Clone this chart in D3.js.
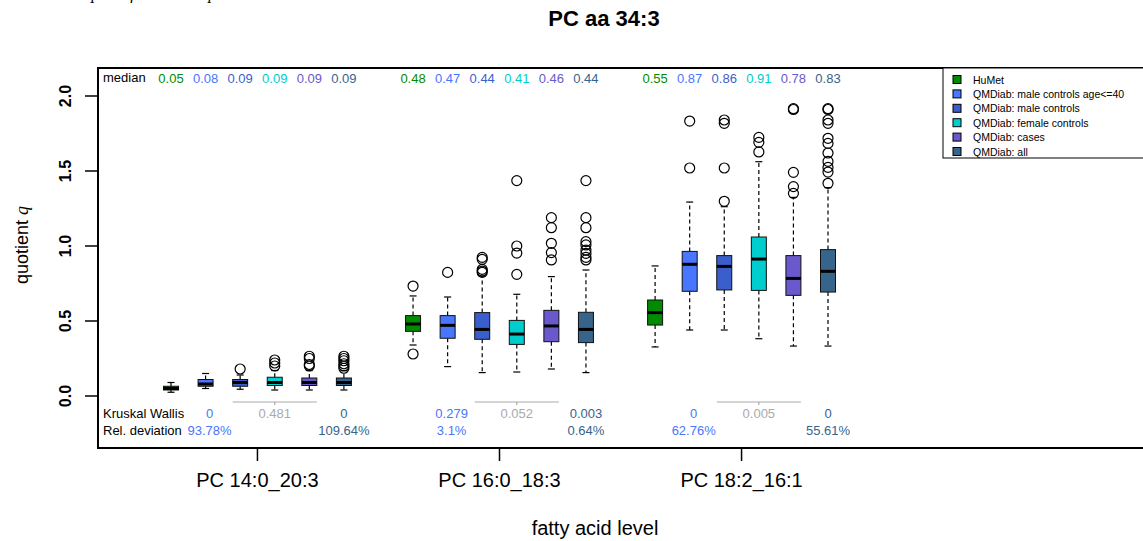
<!DOCTYPE html>
<html>
<head>
<meta charset="utf-8">
<script src="https://cdn.jsdelivr.net/npm/d3@7"></script>
<style>
  body { margin: 0; background: #fff; }
  text { font-family: 'Liberation Sans', Arial, sans-serif; }
</style>
</head>
<body>
<div id="chart"></div>
<script>
const groups = ['PC 14:0_20:3', 'PC 16:0_18:3', 'PC 18:2_16:1']
const series = ['HuMet', 'QMDiab: male controls age<=40', 'QMDiab: male controls', 'QMDiab: female controls', 'QMDiab: cases', 'QMDiab: all']
const colors = ['#008B00', '#4876FF', '#3A5FCD', '#00CDCD', '#6959CD', '#36648B']
const yTicks = [0, 0.5, 1, 1.5, 2]

// box stats per group, one entry per series
const lowWhisker = [
  [0.025, 0.05, 0.045, 0.04, 0.04, 0.04],
  [0.34, 0.196, 0.156, 0.16, 0.18, 0.156],
  [0.327, 0.44, 0.44, 0.382, 0.333, 0.333]
]
const q1 = [
  [0.04, 0.065, 0.065, 0.07, 0.07, 0.07],
  [0.431, 0.385, 0.378, 0.344, 0.362, 0.356],
  [0.473, 0.698, 0.707, 0.704, 0.671, 0.693]
]
const medians = [
  [0.05, 0.08, 0.09, 0.09, 0.09, 0.09],
  [0.48, 0.471, 0.444, 0.413, 0.467, 0.444],
  [0.556, 0.878, 0.864, 0.913, 0.784, 0.831]
]
const q3 = [
  [0.065, 0.11, 0.11, 0.125, 0.12, 0.12],
  [0.536, 0.536, 0.556, 0.504, 0.571, 0.558],
  [0.64, 0.964, 0.936, 1.06, 0.936, 0.976]
]
const highWhisker = [
  [0.09, 0.15, 0.14, 0.17, 0.17, 0.17],
  [0.667, 0.66, 0.80, 0.678, 0.796, 0.84],
  [0.867, 1.293, 1.262, 1.562, 1.324, 1.389]
]
const outliers = [
  [[], [], [0.18], [0.2, 0.22, 0.24], [0.2, 0.21, 0.25, 0.265], [0.185, 0.2, 0.215, 0.235, 0.25, 0.265]],
  [[0.28, 0.733], [0.824], [0.824, 0.833, 0.844, 0.911, 0.924], [0.811, 0.953, 1.0, 1.436],
    [0.907, 0.956, 1.018, 1.122, 1.189], [0.907, 0.924, 0.951, 0.973, 1.007, 1.029, 1.122, 1.189, 1.436]],
  [[], [1.52, 1.833], [1.298, 1.52, 1.818, 1.84], [1.627, 1.691, 1.724],
    [1.351, 1.396, 1.491, 1.91, 1.916], [1.418, 1.493, 1.524, 1.564, 1.62, 1.684, 1.718, 1.818, 1.84, 1.91, 1.916]]
]
const medianLabels = [
  ['0.05', '0.08', '0.09', '0.09', '0.09', '0.09'],
  ['0.48', '0.47', '0.44', '0.41', '0.46', '0.44'],
  ['0.55', '0.87', '0.86', '0.91', '0.78', '0.83']
]
const kwLeft = ['0', '0.279', '0']
const kwMid = ['0.481', '0.052', '0.005']
const kwRight = ['0', '0.003', '0']
const relLeft = ['93.78%', '3.1%', '62.76%']
const relRight = ['109.64%', '0.64%', '55.61%']

const width = 1143
const height = 541
const plot = { left: 98, right: 1150, top: 68, bottom: 448 }
const boxHalf = 7.5

const svg = d3.select('#chart').append('svg')
  .attr('width', width)
  .attr('height', height)

// clipped caption from the page above the chart
svg.append('text')
  .attr('x', 0).attr('y', -1)
  .style('font-family', "'Liberation Serif', serif")
  .style('font-style', 'italic')
  .style('font-size', '17px')
  .text('Values in the plot of the ratio species')

const y = d3.scaleLinear().domain([0, 2]).range([396, 96])
const x = d3.scaleLinear().domain([0, 19]).range([171, 828])
const pos = (g, i) => x(g * 7 + i)

// title and axis labels
svg.append('text').attr('x', 604).attr('y', 26).attr('text-anchor', 'middle')
  .style('font-size', '22px').style('font-weight', 'bold').text('PC aa 34:3')
svg.append('text').attr('x', 595).attr('y', 535).attr('text-anchor', 'middle')
  .style('font-size', '20px').text('fatty acid level')
const ylab = svg.append('text')
  .attr('transform', 'translate(28,' + 245 + ') rotate(-90)')
  .attr('text-anchor', 'middle')
  .style('font-size', '18px')
ylab.append('tspan').text('quotient ')
ylab.append('tspan').style('font-family', "'Liberation Serif', serif").style('font-style', 'italic').text('q')

// y axis
const yAxis = svg.append('g')
yAxis.selectAll('line').data(yTicks).enter().append('line')
  .attr('x1', 85).attr('x2', plot.left)
  .attr('y1', d => y(d)).attr('y2', d => y(d))
  .attr('stroke', '#000').attr('stroke-width', 1.5)
yAxis.selectAll('text').data(yTicks).enter().append('text')
  .attr('transform', d => 'translate(71,' + y(d) + ') rotate(-90)')
  .attr('text-anchor', 'middle')
  .style('font-size', '16px').style('font-weight', 'bold')
  .text(d => d3.format('.1f')(d))

// x axis
const xAxis = svg.append('g')
xAxis.selectAll('line').data(groups).enter().append('line')
  .attr('x1', (d, g) => x(g * 7 + 2.5)).attr('x2', (d, g) => x(g * 7 + 2.5))
  .attr('y1', plot.bottom).attr('y2', 461)
  .attr('stroke', '#000').attr('stroke-width', 1.5)
xAxis.selectAll('text').data(groups).enter().append('text')
  .attr('x', (d, g) => x(g * 7 + 2.5)).attr('y', 487)
  .attr('text-anchor', 'middle')
  .style('font-size', '20px')
  .text(d => d)

// frame
svg.append('rect')
  .attr('x', plot.left).attr('y', plot.top)
  .attr('width', plot.right - plot.left).attr('height', plot.bottom - plot.top)
  .attr('fill', 'none').attr('stroke', '#000').attr('stroke-width', 2)

// boxes
groups.forEach((gName, g) => {
  const cells = series.map((s, i) => ({
    i,
    cx: pos(g, i),
    lw: lowWhisker[g][i],
    q1: q1[g][i],
    med: medians[g][i],
    q3: q3[g][i],
    hw: highWhisker[g][i],
    out: outliers[g][i]
  }))
  const bg = svg.append('g')
  const box = bg.selectAll('g').data(cells).enter().append('g')

  box.append('line')
    .attr('x1', d => d.cx).attr('x2', d => d.cx)
    .attr('y1', d => y(d.q3)).attr('y2', d => y(d.hw))
    .attr('stroke', '#000').attr('stroke-width', 1.2).attr('stroke-dasharray', '4,3')
  box.append('line')
    .attr('x1', d => d.cx).attr('x2', d => d.cx)
    .attr('y1', d => y(d.q1)).attr('y2', d => y(d.lw))
    .attr('stroke', '#000').attr('stroke-width', 1.2).attr('stroke-dasharray', '4,3')
  box.append('line')
    .attr('x1', d => d.cx - 3.5).attr('x2', d => d.cx + 3.5)
    .attr('y1', d => y(d.hw)).attr('y2', d => y(d.hw))
    .attr('stroke', '#000').attr('stroke-width', 1.2)
  box.append('line')
    .attr('x1', d => d.cx - 3.5).attr('x2', d => d.cx + 3.5)
    .attr('y1', d => y(d.lw)).attr('y2', d => y(d.lw))
    .attr('stroke', '#000').attr('stroke-width', 1.2)
  box.append('rect')
    .attr('x', d => d.cx - boxHalf).attr('width', boxHalf * 2)
    .attr('y', d => y(d.q3)).attr('height', d => y(d.q1) - y(d.q3))
    .attr('fill', d => colors[d.i])
    .attr('stroke', '#111').attr('stroke-width', 1)
  box.append('line')
    .attr('x1', d => d.cx - boxHalf).attr('x2', d => d.cx + boxHalf)
    .attr('y1', d => y(d.med)).attr('y2', d => y(d.med))
    .attr('stroke', '#000').attr('stroke-width', 3)
  box.selectAll('circle').data(d => d.out.map(v => ({ cx: d.cx, v }))).enter().append('circle')
    .attr('cx', d => d.cx).attr('cy', d => y(d.v)).attr('r', 5)
    .attr('fill', 'none').attr('stroke', '#000').attr('stroke-width', 1.2)

  // median labels
  bg.selectAll('text.med').data(cells).enter().append('text')
    .attr('x', d => d.cx).attr('y', 83)
    .attr('text-anchor', 'middle')
    .attr('fill', d => colors[d.i])
    .style('font-size', '13px')
    .text(d => medianLabels[g][d.i])

  // Kruskal Wallis and deviation
  const kw = [
    { x: pos(g, 1) + 4, row: 418, t: kwLeft[g], c: colors[1] },
    { x: pos(g, 3), row: 418, t: kwMid[g], c: '#aaaaaa' },
    { x: pos(g, 5), row: 418, t: kwRight[g], c: colors[5] },
    { x: pos(g, 1) + 4, row: 435, t: relLeft[g], c: colors[1] },
    { x: pos(g, 5), row: 435, t: relRight[g], c: colors[5] }
  ]
  bg.selectAll('text.kw').data(kw).enter().append('text')
    .attr('x', d => d.x).attr('y', d => d.row)
    .attr('text-anchor', 'middle')
    .attr('fill', d => d.c)
    .style('font-size', '13px')
    .text(d => d.t)

  // bracket for the middle test
  bg.append('path')
    .attr('d', 'M' + (pos(g, 2) - boxHalf) + ',402H' + (pos(g, 4) + boxHalf) +
      'M' + pos(g, 3) + ',402V405')
    .attr('fill', 'none').attr('stroke', '#aaaaaa').attr('stroke-width', 1.2)
})

svg.append('text').attr('x', 103).attr('y', 82).style('font-size', '13px').text('median')
svg.append('text').attr('x', 103).attr('y', 418).style('font-size', '13px').text('Kruskal Wallis')
svg.append('text').attr('x', 103).attr('y', 435).style('font-size', '13px').text('Rel. deviation')

// legend
const legend = svg.append('g')
legend.append('rect')
  .attr('x', 943).attr('y', plot.top).attr('width', 220).attr('height', 90)
  .attr('fill', '#fff').attr('stroke', '#000').attr('stroke-width', 1)
const item = legend.selectAll('g.item').data(series).enter().append('g')
  .attr('transform', (d, i) => 'translate(953,' + (79.5 + i * 14.4) + ')')
item.append('rect')
  .attr('x', 0).attr('y', -4).attr('width', 8).attr('height', 8)
  .attr('fill', (d, i) => colors[i]).attr('stroke', '#000').attr('stroke-width', 1)
item.append('text')
  .attr('x', 20).attr('y', 4)
  .style('font-size', '10.5px')
  .text(d => d)
</script>
</body>
</html>
